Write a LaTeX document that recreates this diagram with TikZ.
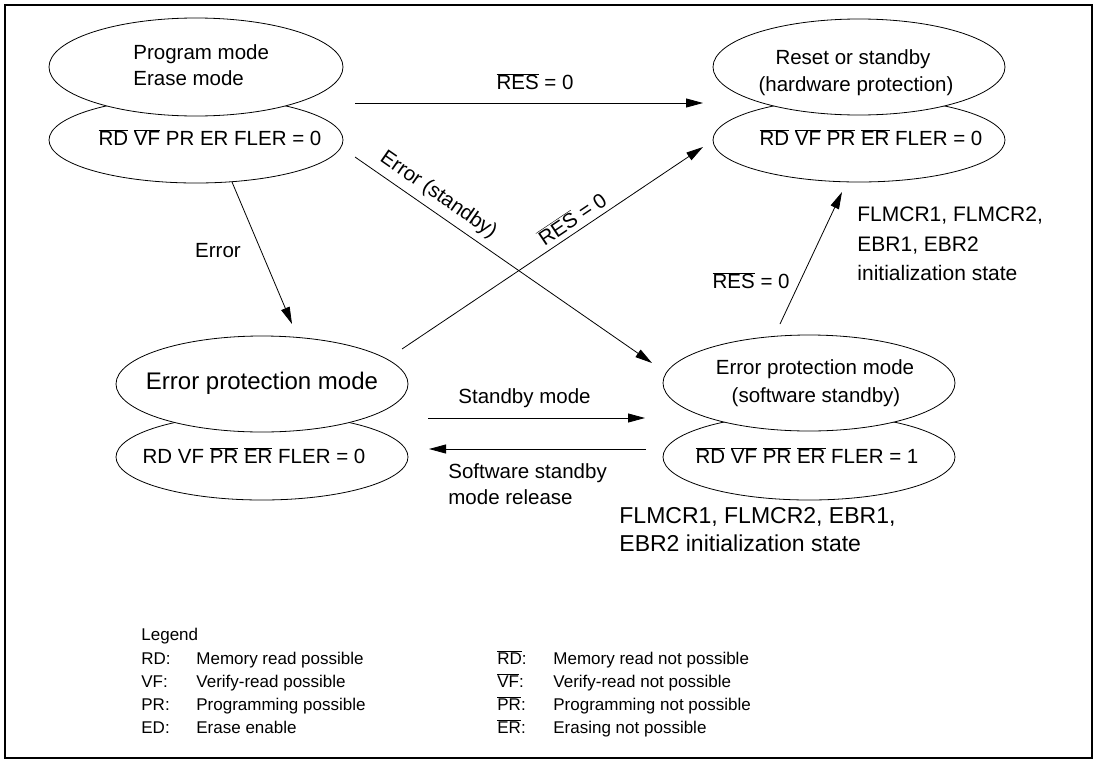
\documentclass[tikz,border=0pt]{standalone}
\usepackage{fontspec}
\setmainfont{Liberation Sans}
\usetikzlibrary{arrows.meta,shapes.geometric}
\newcommand{\ovl}[1]{$\overline{\mbox{#1}}$}
\newcommand{\fsz}[1]{\fontsize{#1}{#1}\selectfont}
\begin{document}
\begin{tikzpicture}[x=1pt,y=-1pt,line width=0.8pt,
  ell/.style={ellipse, draw, fill=white, inner sep=0pt, outer sep=0pt},
  st/.style={font=\fsz{20.5}, inner sep=0pt},
  big/.style={font=\fsz{24}, inner sep=0pt},
  lab/.style={font=\fsz{20.5}, inner sep=0pt},
  lg/.style={font=\fsz{17}, inner sep=0pt, anchor=mid west},
  arr/.style={-{Triangle[length=17pt,width=9pt]}}]
\useasboundingbox (0,0) rectangle (1097,763);
\draw[line width=1.1pt] (5,5) rectangle (1092,758);

% State A
\node[ell, minimum width=294, minimum height=86] (Abot) at (196,140) {};
\node[ell, minimum width=294, minimum height=98] (Atop) at (196,67) {};
\node[st, anchor=mid west] (A1) at (133,57) {Program mode};
\node[st, anchor=mid west] (A2) at (133,83) {Erase mode};
\node[st, anchor=mid] (A3) at (210,143) {\ovl{RD} \ovl{VF} PR ER FLER = 0};

% State B
\node[ell, minimum width=292, minimum height=84] (Bbot) at (859,140) {};
\node[ell, minimum width=292, minimum height=96] (Btop) at (859,67) {};
\node[st, anchor=mid] (B1) at (853,62) {Reset or standby};
\node[st, anchor=mid] (B2) at (856,89) {(hardware protection)};
\node[st, anchor=mid] (B3) at (871,143) {\ovl{RD} \ovl{VF} \ovl{PR} \ovl{ER} FLER = 0};

% State C
\node[ell, minimum width=292, minimum height=86] (Cbot) at (262,457) {};
\node[ell, minimum width=292, minimum height=96] (Ctop) at (262,384) {};
\node[big, anchor=mid] (C1) at (262,387) {Error protection mode};
\node[st, anchor=mid] (C3) at (254,461) {RD VF \ovl{PR} \ovl{ER} FLER = 0};

% State D
\node[ell, minimum width=292, minimum height=86] (Dbot) at (809,457) {};
\node[ell, minimum width=292, minimum height=96] (Dtop) at (809,383) {};
\node[st, anchor=mid] (D1) at (815,372) {Error protection mode};
\node[st, anchor=mid] (D2) at (816,400) {(software standby)};
\node[st, anchor=mid] (D3) at (807,461) {\ovl{RD} \ovl{VF} \ovl{PR} \ovl{ER} FLER = 1};

% connector end points
\coordinate (r1s) at (355,103);  \coordinate (r1e) at (703,103);
\coordinate (e2s) at (355,157);  \coordinate (e2e) at (652,363);
\coordinate (e1s) at (232,182);  \coordinate (e1e) at (292,324);
\coordinate (r2s) at (402,349);  \coordinate (r2e) at (703,147);
\coordinate (s1s) at (428,418);  \coordinate (s1e) at (645,418);
\coordinate (s2s) at (646,449);  \coordinate (s2e) at (429,449);
\coordinate (r3s) at (780,324);  \coordinate (r3e) at (842,192);

\draw[arr] (r1s) -- (r1e);
\node[lab, anchor=mid] (L1) at (535,87) {\ovl{RES} = 0};
\draw[arr] (e2s) -- node[lab, sloped, above=6pt, pos=0.25] (L2) {Error (standby)} (e2e);
\draw[arr] (e1s) -- (e1e);
\node[lab, anchor=mid] (L3) at (218,255) {Error};
\draw[arr] (r2s) -- node[lab, sloped, above=5pt, pos=0.59] (L4) {\ovl{RES} = 0} (r2e);
\draw[arr] (s1s) -- (s1e);
\node[lab, anchor=mid west] (L5) at (458,401) {Standby mode};
\draw[arr] (s2s) -- (s2e);
\node[lab, anchor=mid west] (L6) at (448,476) {Software standby};
\node[lab, anchor=mid west] (L7) at (448,502) {mode release};
\draw[arr] (r3s) -- (r3e);
\node[lab, anchor=mid east] (L8) at (790,286) {\ovl{RES} = 0};
\node[font=\fsz{21}, inner sep=0pt, anchor=mid west] (F1) at (857,219) {FLMCR1, FLMCR2,};
\node[font=\fsz{21}, inner sep=0pt, anchor=mid west] (F2) at (857,249) {EBR1, EBR2};
\node[font=\fsz{21}, inner sep=0pt, anchor=mid west] (F3) at (857,278) {initialization state};
\node[font=\fsz{23}, inner sep=0pt, anchor=mid west] (G1) at (619,521) {FLMCR1, FLMCR2, EBR1,};
\node[font=\fsz{23}, inner sep=0pt, anchor=mid west] (G2) at (619,549) {EBR2 initialization state};

% Legend
\node[lg] (lgT) at (141,638) {Legend};
\node[lg] (l1a) at (141,662) {RD:};  \node[lg] (l1b) at (196,662) {Memory read possible};
\node[lg] (l2a) at (141,685) {VF:};  \node[lg] (l2b) at (196,685) {Verify-read possible};
\node[lg] (l3a) at (141,708) {PR:};  \node[lg] (l3b) at (196,708) {Programming possible};
\node[lg] (l4a) at (141,731) {ED:};  \node[lg] (l4b) at (196,731) {Erase enable};
\node[lg] (m1a) at (497,662) {\ovl{RD}:};  \node[lg] (m1b) at (553,662) {Memory read not possible};
\node[lg] (m2a) at (497,685) {\ovl{VF}:};  \node[lg] (m2b) at (553,685) {Verify-read not possible};
\node[lg] (m3a) at (497,708) {\ovl{PR}:};  \node[lg] (m3b) at (553,708) {Programming not possible};
\node[lg] (m4a) at (497,731) {\ovl{ER}:};  \node[lg] (m4b) at (553,731) {Erasing not possible};
\end{tikzpicture}
\end{document}
